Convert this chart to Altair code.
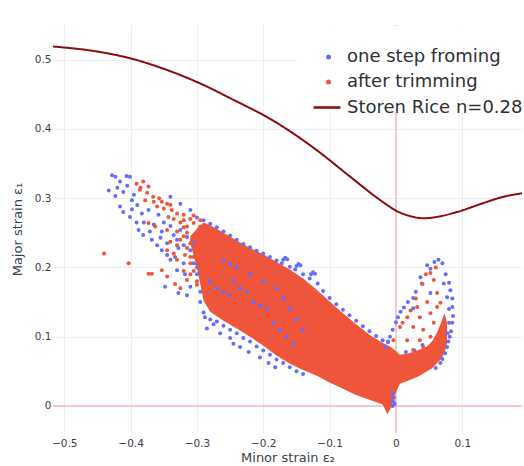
import altair as alt
import pandas as pd

series_names = ["one step froming", "after trimming", "Storen Rice n=0.28"]
series_colors = ["#636efa", "#ef553b", "#8b0a0a"]
x_ticks = [-0.5, -0.4, -0.3, -0.2, -0.1, 0, 0.1]
y_ticks = [0, 0.1, 0.2, 0.3, 0.4, 0.5]
x_domain = [-0.517, 0.19]
y_domain = [-0.039, 0.55]

# Storen-Rice forming limit curve
curve_x = [-0.517, -0.446, -0.401, -0.345, -0.296, -0.245, -0.220, -0.194, -0.170, -0.119,
           -0.069, -0.019, 0.002, 0.022, 0.041, 0.062, 0.092, 0.132, 0.162, 0.190]
curve_y = [0.519, 0.511, 0.502, 0.485, 0.466, 0.442, 0.430, 0.417, 0.403, 0.369,
           0.331, 0.294, 0.281, 0.274, 0.271, 0.273, 0.280, 0.293, 0.302, 0.307]

# dense core of the trimmed cloud (upper / lower envelope)
core_x = [-0.31, -0.30, -0.29, -0.28, -0.26, -0.24, -0.22, -0.20, -0.18, -0.16, -0.14, -0.12, -0.10, -0.08,
          -0.06, -0.04, -0.02, -0.013, -0.008, 0.0, 0.006, 0.02, 0.032, 0.047, 0.055, 0.062, 0.068, 0.073,
          0.077]
core_upper = [0.245, 0.256, 0.265, 0.261, 0.250, 0.239, 0.228, 0.219, 0.208, 0.197, 0.184, 0.168, 0.151,
              0.134, 0.118, 0.103, 0.091, 0.088, 0.085, 0.079, 0.074, 0.076, 0.080, 0.086, 0.094, 0.106,
              0.120, 0.134, 0.120]
core_lower = [0.235, 0.200, 0.152, 0.136, 0.123, 0.112, 0.100, 0.087, 0.073, 0.061, 0.052, 0.044, 0.034,
              0.025, 0.016, 0.009, 0.002, -0.012, -0.004, 0.020, 0.032, 0.037, 0.042, 0.050, 0.055, 0.062,
              0.068, 0.076, 0.090]

# one step forming points
blue_pts = [
    (-0.428, 0.333), (-0.423, 0.331), (-0.406, 0.332), (-0.401, 0.331), (-0.416, 0.324), (-0.433, 0.311),
    (-0.423, 0.303), (-0.411, 0.309), (-0.398, 0.297), (-0.416, 0.288), (-0.411, 0.280), (-0.398, 0.284),
    (-0.401, 0.273), (-0.391, 0.265), (-0.388, 0.254), (-0.381, 0.247), (-0.368, 0.240), (-0.360, 0.232),
    (-0.353, 0.225), (-0.345, 0.218), (-0.340, 0.211), (-0.383, 0.278), (-0.373, 0.283), (-0.358, 0.276),
    (-0.371, 0.252), (-0.353, 0.252), (-0.335, 0.247), (-0.325, 0.254), (-0.315, 0.244), (-0.328, 0.228),
    (-0.310, 0.225), (-0.333, 0.215), (-0.320, 0.206), (-0.305, 0.206), (-0.330, 0.196), (-0.340, 0.302),
    (-0.325, 0.292), (-0.310, 0.283), (-0.348, 0.172), (-0.328, 0.163), (-0.315, 0.160), (-0.288, 0.128),
    (-0.300, 0.190), (-0.310, 0.172), (-0.295, 0.165),
    (-0.420, 0.315), (-0.405, 0.318), (-0.395, 0.305), (-0.390, 0.290), (-0.380, 0.265), (-0.365, 0.262),
    (-0.355, 0.243), (-0.350, 0.265), (-0.340, 0.260), (-0.345, 0.235), (-0.330, 0.240), (-0.320, 0.232),
    (-0.305, 0.235), (-0.318, 0.190), (-0.300, 0.200),
    (-0.300, 0.272), (-0.290, 0.268), (-0.280, 0.263), (-0.270, 0.258), (-0.260, 0.252), (-0.250, 0.246),
    (-0.240, 0.240), (-0.230, 0.234), (-0.220, 0.229), (-0.210, 0.224), (-0.200, 0.220), (-0.190, 0.215),
    (-0.180, 0.210), (-0.172, 0.206), (-0.170, 0.211), (-0.167, 0.214), (-0.164, 0.212), (-0.160, 0.201),
    (-0.152, 0.197), (-0.150, 0.202), (-0.147, 0.205), (-0.144, 0.203), (-0.140, 0.190), (-0.130, 0.184),
    (-0.128, 0.190), (-0.125, 0.193), (-0.122, 0.191), (-0.118, 0.177), (-0.110, 0.166), (-0.100, 0.156),
    (-0.090, 0.147), (-0.080, 0.139), (-0.070, 0.131), (-0.060, 0.123), (-0.050, 0.115), (-0.040, 0.108),
    (-0.030, 0.101), (-0.020, 0.095), (-0.012, 0.092),
    (-0.295, 0.150), (-0.290, 0.135), (-0.280, 0.125), (-0.270, 0.122), (-0.260, 0.116), (-0.250, 0.110),
    (-0.240, 0.105), (-0.230, 0.098), (-0.220, 0.093), (-0.210, 0.086), (-0.200, 0.080), (-0.190, 0.074),
    (-0.180, 0.067), (-0.170, 0.062), (-0.160, 0.056), (-0.150, 0.050), (-0.140, 0.046),
    (-0.285, 0.112), (-0.265, 0.105), (-0.250, 0.098), (-0.235, 0.085), (-0.222, 0.078), (-0.205, 0.070),
    (-0.192, 0.062), (-0.182, 0.056), (-0.245, 0.090), (-0.275, 0.118),
    (-0.004, 0.006), (-0.003, 0.012), (-0.005, 0.000), (-0.006, 0.018), (-0.002, 0.003),
    (-0.280, 0.180), (-0.270, 0.170), (-0.260, 0.165), (-0.250, 0.160), (-0.245, 0.180), (-0.235, 0.170),
    (-0.225, 0.165), (-0.215, 0.150), (-0.205, 0.145), (-0.195, 0.140), (-0.260, 0.210), (-0.250, 0.205),
    (-0.240, 0.200), (-0.220, 0.190), (-0.200, 0.180), (-0.180, 0.170), (-0.170, 0.155), (-0.160, 0.140),
    (-0.150, 0.125), (-0.140, 0.110), (-0.185, 0.120), (-0.175, 0.110), (-0.165, 0.100), (-0.155, 0.090),
    (0.064, 0.211), (0.070, 0.206), (0.058, 0.208), (0.047, 0.203), (0.052, 0.198), (0.037, 0.186),
    (0.040, 0.176), (0.026, 0.156), (0.030, 0.165), (0.018, 0.150), (0.007, 0.136), (0.012, 0.142),
    (0.000, 0.121), (0.003, 0.128), (-0.009, 0.100), (-0.005, 0.110), (-0.016, 0.085), (-0.012, 0.093),
    (0.075, 0.190), (0.080, 0.178), (0.082, 0.167), (0.085, 0.155), (0.085, 0.143), (0.086, 0.130),
    (0.085, 0.120), (0.083, 0.108), (0.081, 0.100), (0.079, 0.093), (0.077, 0.085), (0.074, 0.076),
    (0.070, 0.068), (0.067, 0.062), (0.060, 0.055),
    (0.026, 0.141), (0.052, 0.163), (0.072, 0.177), (0.077, 0.157), (0.080, 0.140), (0.080, 0.120),
    (0.078, 0.105), (0.015, 0.078), (0.028, 0.080), (0.040, 0.088),
]

# after trimming points
red_pts = [
    (-0.391, 0.321), (-0.381, 0.324), (-0.373, 0.317), (-0.386, 0.312), (-0.366, 0.302), (-0.353, 0.295),
    (-0.345, 0.292), (-0.360, 0.288), (-0.338, 0.283), (-0.330, 0.278), (-0.320, 0.276), (-0.343, 0.273),
    (-0.373, 0.264), (-0.363, 0.259), (-0.345, 0.254), (-0.330, 0.252), (-0.315, 0.259), (-0.305, 0.264),
    (-0.295, 0.259), (-0.325, 0.240), (-0.340, 0.237), (-0.310, 0.235), (-0.300, 0.230), (-0.345, 0.225),
    (-0.335, 0.220), (-0.318, 0.218), (-0.305, 0.215), (-0.290, 0.220), (-0.330, 0.211), (-0.310, 0.206),
    (-0.295, 0.201), (-0.378, 0.297), (-0.310, 0.270), (-0.320, 0.268), (-0.300, 0.250), (-0.295, 0.245),
    (-0.300, 0.240), (-0.290, 0.235), (-0.285, 0.240), (-0.290, 0.250), (-0.298, 0.210), (-0.292, 0.190),
    (-0.300, 0.180), (-0.290, 0.175),
    (-0.385, 0.315), (-0.375, 0.308), (-0.365, 0.295), (-0.357, 0.300), (-0.350, 0.285), (-0.340, 0.290),
    (-0.335, 0.270), (-0.325, 0.265), (-0.320, 0.258), (-0.315, 0.250), (-0.305, 0.245), (-0.320, 0.245),
    (-0.330, 0.232), (-0.315, 0.228), (-0.300, 0.222), (-0.310, 0.215), (-0.320, 0.195), (-0.310, 0.190),
    (-0.305, 0.195), (-0.300, 0.205), (-0.295, 0.268), (-0.305, 0.275), (-0.300, 0.235),
    (-0.440, 0.220), (-0.403, 0.206), (-0.373, 0.191), (-0.368, 0.191), (-0.353, 0.196), (-0.345, 0.187),
    (-0.333, 0.176), (-0.325, 0.170), (-0.315, 0.182), (-0.300, 0.175),
    (0.052, 0.192), (0.057, 0.182), (0.039, 0.177), (0.062, 0.163), (0.047, 0.150), (0.032, 0.143),
    (0.017, 0.128), (0.036, 0.128), (0.052, 0.134), (0.006, 0.114), (0.026, 0.114), (0.041, 0.110),
    (0.057, 0.120), (-0.004, 0.095), (0.017, 0.095), (0.036, 0.095), (0.052, 0.100), (0.026, 0.081),
    (0.041, 0.085), (0.062, 0.143), (0.067, 0.149), (0.060, 0.200), (0.045, 0.190), (0.022, 0.138),
    (0.010, 0.120), (0.030, 0.155),
]

points = pd.DataFrame(
    [{"x": x, "y": y, "series": series_names[0]} for x, y in blue_pts]
    + [{"x": x, "y": y, "series": series_names[1]} for x, y in red_pts]
)
curve = pd.DataFrame({"x": curve_x, "y": curve_y, "series": series_names[2]})
core = pd.DataFrame({"x": core_x, "upper": core_upper, "lower": core_lower})

FONT = "DejaVu Sans"
TXT = "#3b3f4a"
LEG_TXT = "#2f2f36"

xs = alt.Scale(domain=x_domain, nice=False, zero=False)
ys = alt.Scale(domain=y_domain, nice=False, zero=False)
x_axis = alt.Axis(values=x_ticks, format=".1~f", title="Minor strain ε₂", domain=False, ticks=False,
                  grid=True, gridColor="#eceef3", labelPadding=5, titlePadding=3,
                  labelFontSize=10.5, titleFontSize=13, labelFont=FONT, titleFont=FONT,
                  labelColor=TXT, titleColor=TXT, titleFontWeight="normal")
y_axis = alt.Axis(values=y_ticks, format=".1~f", title="Major strain ε₁", domain=False, ticks=False,
                  grid=True, gridColor="#eceef3", labelPadding=2, titlePadding=10,
                  labelFontSize=10.5, titleFontSize=13, labelFont=FONT, titleFont=FONT,
                  labelColor=TXT, titleColor=TXT, titleFontWeight="normal")

legend_pts = alt.Legend(title=None, orient="none", legendX=244.5, legendY=1, padding=22, fillColor="white",
                        labelFontSize=18, labelFont=FONT, labelColor=LEG_TXT, labelOffset=9.5,
                        labelLimit=400, rowPadding=7, symbolType="circle", symbolSize=25,
                        symbolOpacity=1, zindex=0)
legend_line = alt.Legend(title=None, orient="none", legendX=253, legendY=61.5, padding=6,
                         labelFontSize=18, labelFont=FONT, labelColor=LEG_TXT, labelOffset=5,
                         labelLimit=400, symbolType="stroke", symbolSize=729, symbolStrokeWidth=2.5,
                         symbolStrokeColor=series_colors[2], zindex=1)

zero_v = alt.Chart(pd.DataFrame({"x": [0]})).mark_rule(color="#f5b7c5", strokeWidth=1.5).encode(
    x=alt.X("x:Q", scale=xs, axis=x_axis))
zero_h = alt.Chart(pd.DataFrame({"y": [0]})).mark_rule(color="#f5b7c5", strokeWidth=1.5).encode(
    y=alt.Y("y:Q", scale=ys, axis=y_axis))

core_layer = alt.Chart(core).mark_area(color=series_colors[1], opacity=1).encode(
    x=alt.X("x:Q", scale=xs, axis=x_axis),
    y=alt.Y("upper:Q", scale=ys, axis=y_axis),
    y2="lower:Q",
)

pts_layer = alt.Chart(points).mark_circle(size=16, opacity=1).encode(
    x=alt.X("x:Q", scale=xs, axis=x_axis),
    y=alt.Y("y:Q", scale=ys, axis=y_axis),
    color=alt.Color("series:N", scale=alt.Scale(domain=series_names[:2], range=series_colors[:2]),
                    legend=legend_pts),
)

line_layer = alt.Chart(curve).mark_line(strokeWidth=2, interpolate="monotone", clip=True,
                                         color=series_colors[2]).encode(
    x=alt.X("x:Q", scale=xs, axis=x_axis),
    y=alt.Y("y:Q", scale=ys, axis=y_axis),
    strokeDash=alt.StrokeDash("series:N", scale=alt.Scale(domain=[series_names[2]], range=[[1, 0]]),
                              legend=legend_line),
)

chart = alt.layer(zero_v, zero_h, core_layer, pts_layer, line_layer).properties(
    width=469, height=408,
    padding={"left": 53, "top": 25, "right": 2, "bottom": 33},
    autosize=alt.AutoSizeParams(type="none"),
    background="white",
).configure_view(stroke=None)

chart.save("out.html", embed_options={"renderer": "svg", "actions": False})
